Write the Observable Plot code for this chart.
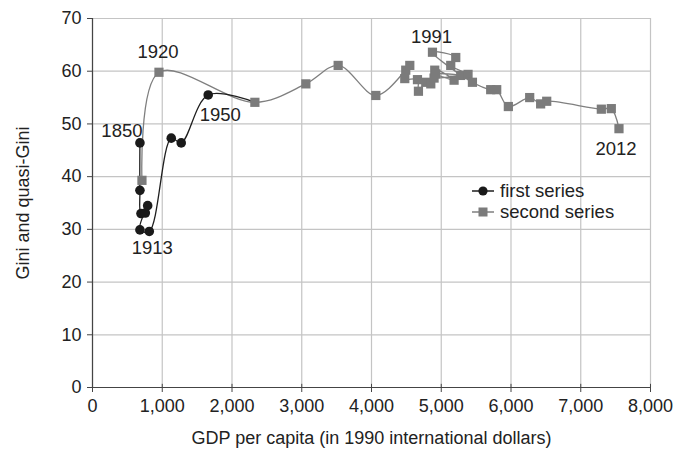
<!DOCTYPE html>
<html><head>
<meta charset="utf-8">
<script src="https://cdn.jsdelivr.net/npm/d3@7"></script>
<script src="https://cdn.jsdelivr.net/npm/@observablehq/plot@0.6"></script>
<style>
body{margin:0;background:#fff;font-family:"Liberation Sans",Arial,sans-serif}
#chart{position:relative;width:674px;height:451px}
.legend{position:absolute;left:472px;top:180px;font-size:18.5px;color:#222;line-height:21px}
.legend div{display:flex;align-items:center}
.legend svg{margin-right:6px}
</style>
</head><body>
<div id="chart"></div>
<script>
// First series (black circles)
const firstGDP  = [680, 680, 695, 757, 791, 680, 814, 1129, 1272, 1659, 2328];
const firstGini = [46.4, 37.4, 33.0, 33.1, 34.5, 29.9, 29.6, 47.3, 46.4, 55.5, 54.1];
// Second series (gray squares)
const secondGDP  = [709, 953, 2328, 3059, 3522, 4062, 4491, 4549, 4477, 4659, 4673, 4778, 4850, 4907, 5184, 4921, 5279, 4897, 5384, 5136, 5208, 4874, 5447, 5709, 5795, 5962, 6268, 6425, 6512, 7295, 7438, 7548];
const secondGini = [39.3, 59.8, 54.1, 57.6, 61.1, 55.4, 60.2, 61.1, 58.6, 58.4, 56.2, 57.9, 57.6, 60.2, 58.3, 59.5, 59.2, 58.7, 59.4, 61.1, 62.6, 63.6, 57.9, 56.5, 56.5, 53.3, 55.0, 53.8, 54.3, 52.8, 52.9, 49.1];
// Year annotations
const labelYears = ["1850", "1913", "1950", "1920", "1991", "2012"];
const labelGDP   = [680, 814, 1659, 953, 4874, 7548];
const labelGini  = [46.4, 29.6, 55.5, 59.8, 63.6, 49.1];
const labelDX    = [-18, 3, 12, -1, -1, -3];
const labelDY    = [-12, 17, 20, -20, -15, 20];
// Axis ticks
const xTicks = [0, 1000, 2000, 3000, 4000, 5000, 6000, 7000, 8000];
const yTicks = [0, 10, 20, 30, 40, 50, 60, 70];

const first = firstGDP.map((x, i) => ({x, y: firstGini[i]}));
const second = secondGDP.map((x, i) => ({x, y: secondGini[i]}));
const labels = labelYears.map((t, i) => ({t, x: labelGDP[i], y: labelGini[i]}));

const plot = Plot.plot({
  width: 674, height: 451,
  marginLeft: 92, marginRight: 24, marginTop: 18, marginBottom: 64,
  style: {fontFamily: '"Liberation Sans", Arial, sans-serif', fontSize: "18px", color: "#222", background: "#fff"},
  x: {type: "linear", domain: [0, 8000]},
  y: {type: "linear", domain: [0, 70]},
  marks: [
    Plot.gridX(xTicks, {stroke: "#c4c4c4", strokeOpacity: 1, strokeWidth: 1.2}),
    Plot.gridY(yTicks, {stroke: "#c4c4c4", strokeOpacity: 1, strokeWidth: 1.2}),
    Plot.ruleX([0], {stroke: "#444", strokeWidth: 1.2}),
    Plot.ruleY([0], {stroke: "#444", strokeWidth: 1.2}),
    Plot.ruleX(xTicks, {x: d => d, y1: 0, y2: 0.6, stroke: "#444", strokeWidth: 1}),
    Plot.axisX({ticks: xTicks, tickFormat: d3.format(","), tickSize: 5, tickPadding: 7, stroke: "#444", fontSize: 18,
      label: "GDP per capita (in 1990 international dollars)", labelAnchor: "center", labelArrow: "none", labelOffset: 56}),
    Plot.axisY({ticks: yTicks, tickSize: 5, tickPadding: 6, stroke: "#444", fontSize: 18,
      label: "Gini and quasi-Gini", labelAnchor: "center", labelArrow: "none", labelOffset: 76}),
    Plot.line(second, {x: "x", y: "y", curve: "catmull-rom", stroke: "#7f7f7f", strokeWidth: 1.3}),
    Plot.line(first, {x: "x", y: "y", curve: "catmull-rom", stroke: "#1e1e1e", strokeWidth: 1.3}),
    Plot.dot(first.slice(0, -1), {x: "x", y: "y", r: 4.8, fill: "#1a1a1a", stroke: "none"}),
    Plot.dot(second, {x: "x", y: "y", symbol: "square", r: 5.2, fill: "#7b7b7b", stroke: "none"}),
    Plot.text(labels, {x: "x", y: "y", text: "t", fontSize: 18.5, fill: "#222", lineAnchor: "middle", className: "yearlabels"})
  ]
});
const chart = document.getElementById("chart");
chart.appendChild(plot);
// apply per-label offsets
d3.select(plot).selectAll(".yearlabels text").each(function(){
  const i = labelYears.indexOf(this.textContent);
  if (i < 0) return;
  const cur = this.getAttribute("transform") || "";
  this.setAttribute("transform", cur + ` translate(${labelDX[i]},${labelDY[i]})`);
});

const legend = document.createElement("div");
legend.className = "legend";
legend.innerHTML = `
<div><svg width="22" height="12"><line x1="0" y1="6" x2="22" y2="6" stroke="#1e1e1e" stroke-width="1.5"/><circle cx="11" cy="6" r="4.6" fill="#1a1a1a"/></svg>first series</div>
<div><svg width="22" height="12"><line x1="0" y1="6" x2="22" y2="6" stroke="#7f7f7f" stroke-width="1.5"/><rect x="6.5" y="1.5" width="9" height="9" fill="#7b7b7b"/></svg>second series</div>`;
chart.appendChild(legend);
</script>
</body></html>
